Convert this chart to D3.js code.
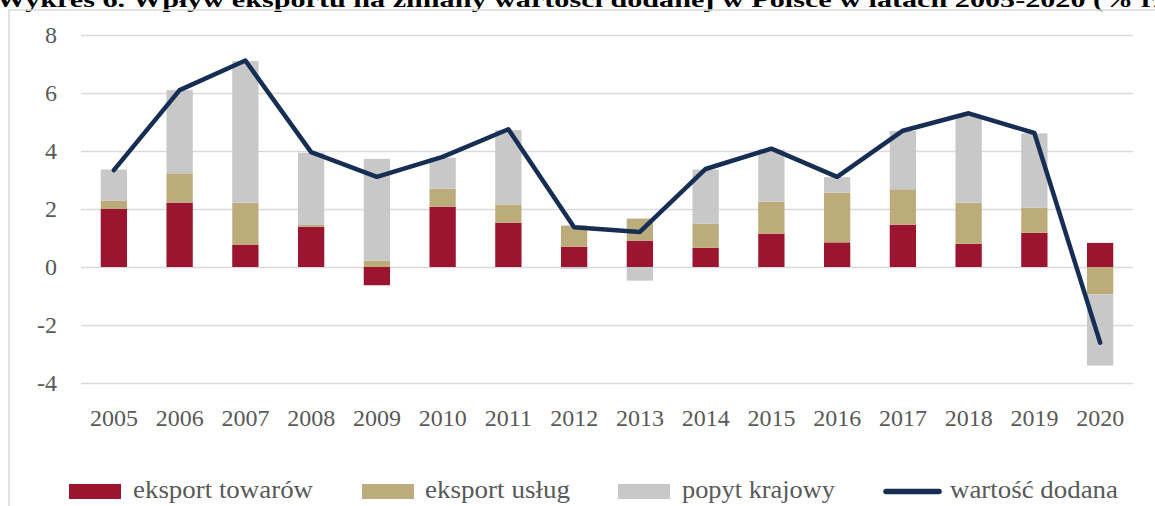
<!DOCTYPE html>
<html>
<head>
<meta charset="utf-8">
<script src="https://cdn.jsdelivr.net/npm/d3@7"></script>
<style>
  html, body { margin: 0; padding: 0; background: #fff; }
  svg { display: block; }
  text { font-family: "Liberation Serif", "Times New Roman", serif; }
</style>
</head>
<body>
<svg id="chart" width="1155" height="506"></svg>
<script>
const years = ["2005","2006","2007","2008","2009","2010","2011","2012","2013","2014","2015","2016","2017","2018","2019","2020"];
const eksportTowarow = [2.00, 2.22, 0.76, 1.39, -0.63, 2.08, 1.53, 0.70, 0.91, 0.66, 1.15, 0.85, 1.46, 0.80, 1.18, 0.83];
const eksportUslug   = [0.28, 1.01, 1.46, 0.06, 0.22, 0.62, 0.63, 0.73, 0.76, 0.83, 1.10, 1.71, 1.22, 1.42, 0.87, -0.94];
const popytKrajowy   = [1.08, 2.87, 4.88, 2.49, 3.51, 1.07, 2.56, -0.06, -0.47, 1.87, 1.80, 0.54, 2.01, 3.00, 2.56, -2.46];
const wartoscDodana  = [3.34, 6.10, 7.12, 3.96, 3.11, 3.80, 4.75, 1.37, 1.21, 3.38, 4.08, 3.11, 4.70, 5.30, 4.62, -2.61];
const yTicks = [-4, -2, 0, 2, 4, 6, 8];
const seriesNames = ["eksport towarów", "eksport usług", "popyt krajowy", "wartość dodana"];
const titleText = "Wykres 6. Wpływ eksportu na zmiany wartości dodanej w Polsce w latach 2005-2020 (% r/r)";

const colors = ["#9b1530", "#bdac7b", "#c8c8c8", "#172e54"];

const svg = d3.select("#chart");

// title, clipped by the top edge as in the reference
svg.append("text")
  .attr("x", -4).attr("y", 7)
  .attr("textLength", 1190).attr("lengthAdjust", "spacingAndGlyphs")
  .style("font-weight", "bold").style("font-size", "22px").style("fill", "#000")
  .text(titleText);

// frame
svg.append("path")
  .attr("d", "M9,520 L9,10 L1170,10")
  .attr("fill", "none").attr("stroke", "#d9d9d9").attr("stroke-width", 1.5);

const x = d3.scaleBand().domain(years).range([81, 1133]).paddingInner(0.6).paddingOuter(0.3);
const y = d3.scaleLinear().domain([-4, 8]).range([383, 35]);

// y axis + gridlines
const yAxis = svg.append("g").attr("transform", "translate(81,0)")
  .call(d3.axisLeft(y).tickValues(yTicks).tickSize(-(1133 - 81)).tickPadding(24).tickFormat(d => String(d)));
yAxis.select(".domain").remove();
yAxis.selectAll(".tick line").attr("stroke", "#d9d9d9").attr("stroke-width", 1.5);
yAxis.selectAll(".tick text").style("font-family", "'Liberation Serif', serif").style("font-size", "24px").attr("fill", "#595959");

// stacked bars
const rows = years.map((yr, i) => ({ year: yr, a: eksportTowarow[i], b: eksportUslug[i], c: popytKrajowy[i] }));
const stack = d3.stack().keys(["a", "b", "c"]).offset(d3.stackOffsetDiverging);
const stacked = stack(rows);

svg.append("g").selectAll("g").data(stacked).join("g")
  .attr("fill", (d, i) => colors[i])
  .selectAll("rect").data(d => d).join("rect")
  .attr("x", d => x(d.data.year))
  .attr("width", x.bandwidth())
  .attr("y", d => y(Math.max(d[0], d[1])))
  .attr("height", d => Math.abs(y(d[0]) - y(d[1])));

// line
const line = d3.line()
  .x((d, i) => x(years[i]) + x.bandwidth() / 2)
  .y(d => y(d));
svg.append("path")
  .datum(wartoscDodana)
  .attr("d", line)
  .attr("fill", "none").attr("stroke", colors[3]).attr("stroke-width", 4.5)
  .attr("stroke-linejoin", "round").attr("stroke-linecap", "round");

// x axis labels
const xAxis = svg.append("g").attr("transform", "translate(0,383)")
  .call(d3.axisBottom(x).tickSize(0).tickPadding(26));
xAxis.select(".domain").remove();
xAxis.selectAll(".tick text").style("font-family", "'Liberation Serif', serif").style("font-size", "24px").attr("fill", "#595959");

// legend
const legendSwatchX = [69, 362, 618, 883];
const legendTextX = [133, 425, 682, 950];
const legendTextW = [180, 145, 153, 168];
const lg = svg.append("g");
seriesNames.forEach((name, i) => {
  if (i < 3) {
    lg.append("rect").attr("x", legendSwatchX[i]).attr("y", 484).attr("width", 52).attr("height", 15).attr("fill", colors[i]);
  } else {
    lg.append("line").attr("x1", legendSwatchX[i] + 3).attr("x2", legendSwatchX[i] + 56)
      .attr("y1", 491.5).attr("y2", 491.5)
      .attr("stroke", colors[i]).attr("stroke-width", 5.5).attr("stroke-linecap", "round");
  }
  lg.append("text").attr("x", legendTextX[i]).attr("y", 498)
    .attr("textLength", legendTextW[i]).attr("lengthAdjust", "spacingAndGlyphs")
    .style("font-size", "25px").attr("fill", "#595959").text(name);
});
</script>
</body>
</html>
